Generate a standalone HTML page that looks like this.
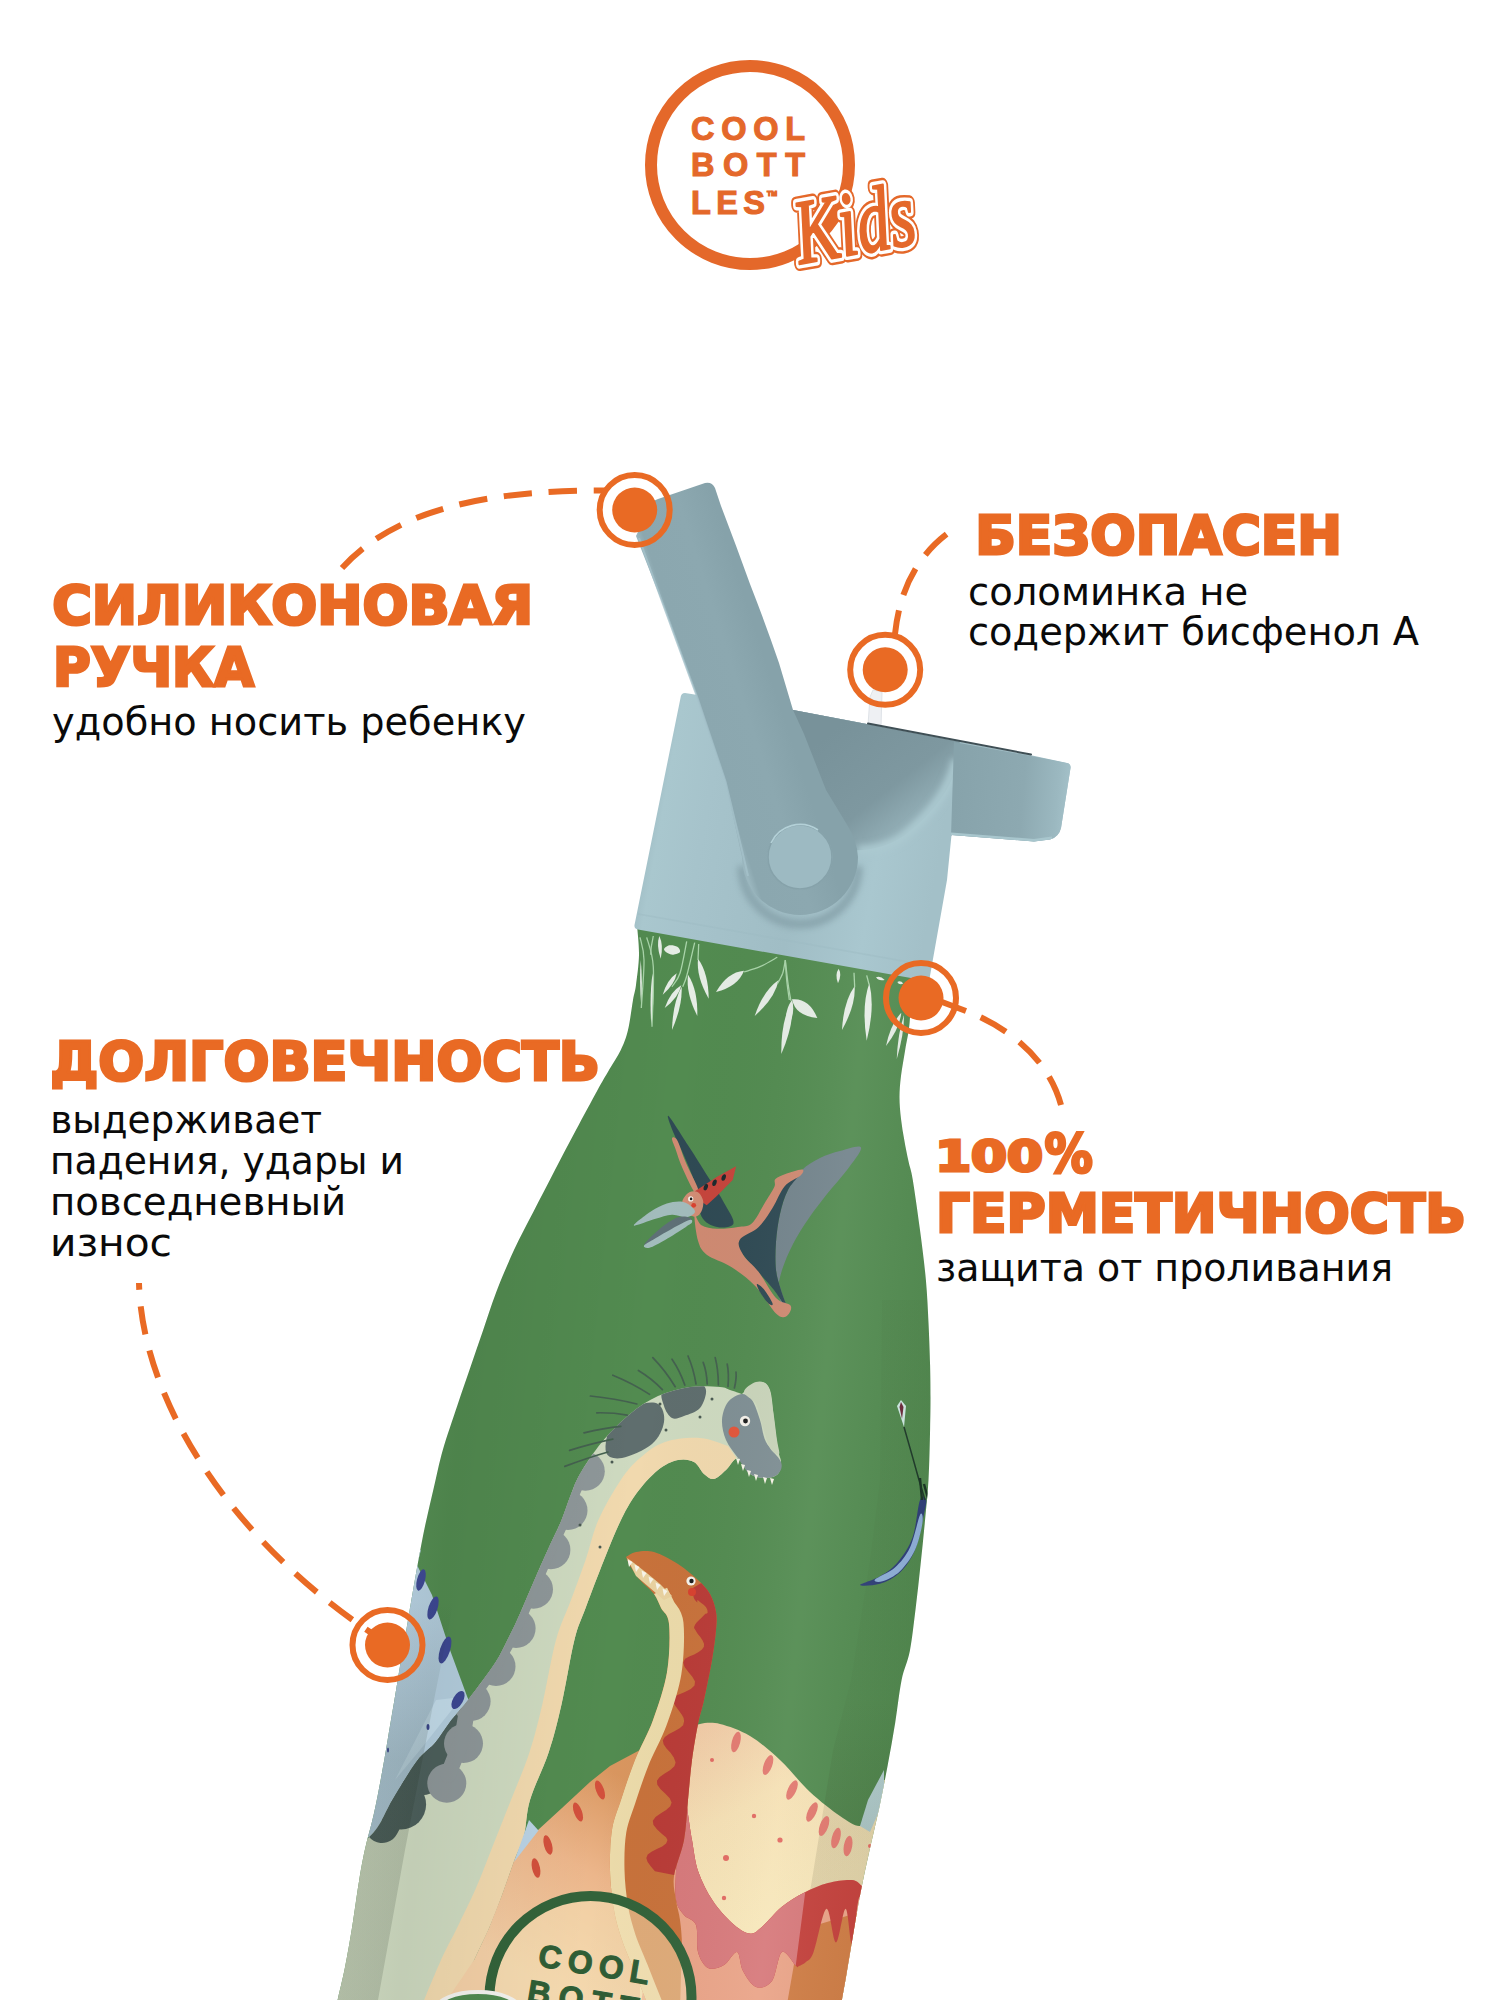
<!DOCTYPE html>
<html lang="ru"><head><meta charset="utf-8"><title>Cool Bottles Kids</title>
<style>
html,body{margin:0;padding:0;background:#fff;}
body{width:1500px;height:2000px;overflow:hidden;}
svg{display:block;}
.h{font-family:"DejaVu Sans","Liberation Sans",sans-serif;font-weight:bold;fill:#e96a24;stroke:#e96a24;stroke-width:3px;stroke-linejoin:miter;stroke-miterlimit:3;}
.b{font-family:"DejaVu Sans","Liberation Sans",sans-serif;fill:#0a0a0a;}
.lg{font-family:"Liberation Sans",sans-serif;font-weight:bold;fill:#e4682a;stroke:#e4682a;stroke-width:1.1px;}
</style></head><body>
<svg width="1500" height="2000" viewBox="0 0 1500 2000">
<defs>
<clipPath id="bc"><path d="M637.0,925.0 C637.3,930.0 639.2,945.0 639.0,955.0 C638.8,965.0 637.0,977.5 636.0,985.0 C635.0,992.5 634.3,992.5 633.0,1000.0 C631.7,1007.5 630.0,1021.7 628.0,1030.0 C626.0,1038.3 624.0,1043.3 620.8,1050.0 C617.6,1056.7 612.9,1063.2 609.0,1070.0 C605.1,1076.8 602.8,1080.5 597.3,1090.5 C591.8,1100.5 583.1,1116.7 576.0,1130.0 C568.9,1143.3 561.8,1156.8 554.7,1170.5 C547.6,1184.2 540.1,1198.8 533.3,1212.0 C526.5,1225.2 520.2,1236.5 514.0,1250.0 C507.8,1263.5 501.1,1279.4 496.0,1292.7 C490.9,1306.0 487.5,1317.6 483.2,1330.0 C478.9,1342.4 474.7,1354.8 470.4,1367.3 C466.1,1379.8 462.2,1390.9 457.6,1404.7 C453.0,1418.5 446.8,1436.2 442.8,1450.0 C438.9,1463.8 436.8,1474.8 433.9,1487.3 C431.0,1499.8 428.0,1512.1 425.3,1524.7 C422.6,1537.3 420.2,1550.6 417.9,1563.0 C415.6,1575.4 413.5,1587.9 411.5,1599.3 C409.5,1610.7 407.9,1620.7 406.1,1631.3 C404.3,1641.9 402.5,1651.0 400.5,1663.0 C398.5,1675.0 396.1,1690.0 393.9,1703.0 C391.7,1716.0 389.6,1728.2 387.5,1740.7 C385.4,1753.2 383.3,1765.6 381.0,1778.0 C378.7,1790.4 376.3,1803.0 373.6,1815.0 C370.9,1827.0 367.2,1838.8 364.8,1850.0 C362.4,1861.2 360.9,1869.5 358.9,1882.0 C356.8,1894.5 354.8,1910.5 352.5,1924.7 C350.2,1938.9 347.5,1954.8 345.0,1967.3 C342.5,1979.8 339.1,1992.9 337.6,2000.0 C336.1,2007.1 336.3,2008.3 336.0,2010.0 L840.0,2010.0 C840.3,2008.3 840.8,2006.2 841.9,2000.0 C843.0,1993.8 844.9,1983.5 846.7,1972.7 C848.6,1961.9 850.7,1948.6 853.0,1935.3 C855.3,1922.0 857.7,1906.9 860.5,1892.7 C863.3,1878.5 866.5,1864.1 869.6,1850.0 C872.7,1835.9 876.2,1822.1 879.2,1808.0 C882.2,1793.9 885.0,1779.5 887.7,1765.3 C890.4,1751.1 892.9,1736.9 895.2,1722.7 C897.5,1708.5 899.2,1692.0 901.6,1680.0 C904.0,1668.0 907.5,1662.7 909.9,1650.7 C912.2,1638.7 913.9,1622.2 915.7,1608.0 C917.5,1593.8 919.0,1579.5 920.5,1565.3 C922.0,1551.1 923.5,1536.9 924.8,1522.7 C926.1,1508.5 927.6,1495.6 928.5,1480.0 C929.4,1464.4 929.8,1442.8 930.1,1429.0 C930.4,1415.2 930.5,1407.9 930.5,1397.3 C930.5,1386.7 930.4,1377.7 930.1,1365.3 C929.8,1352.9 929.2,1336.9 928.5,1322.7 C927.8,1308.5 927.3,1295.5 925.9,1280.0 C924.5,1264.5 922.2,1246.7 920.0,1230.0 C917.8,1213.3 914.7,1191.5 912.8,1180.0 C910.9,1168.5 909.9,1168.0 908.5,1161.3 C907.1,1154.6 905.5,1147.1 904.3,1140.0 C903.0,1132.9 901.8,1125.8 901.0,1118.7 C900.2,1111.6 899.5,1104.4 899.5,1097.3 C899.5,1090.2 900.0,1084.0 901.0,1076.0 C902.0,1068.0 903.9,1058.2 905.3,1049.3 C906.7,1040.4 908.5,1035.1 909.6,1022.7 C910.7,1010.3 911.6,983.0 912.0,975.0Z"/></clipPath>
<linearGradient id="gshade" x1="0" y1="0" x2="1" y2="0.17" gradientUnits="objectBoundingBox">
<stop offset="0" stop-color="#000" stop-opacity="0.03"/>
<stop offset="0.10" stop-color="#fff" stop-opacity="0.03"/>
<stop offset="0.30" stop-color="#000" stop-opacity="0.06"/>
<stop offset="0.55" stop-color="#000" stop-opacity="0.0"/>
<stop offset="0.8" stop-color="#fff" stop-opacity="0.06"/>
<stop offset="1" stop-color="#000" stop-opacity="0.04"/>
</linearGradient>
</defs>
<g clip-path="url(#bc)">
<rect x="300" y="900" width="700" height="1110" fill="#528b50"/>
<path d="M421.0,1550.0 L417.0,1565.0 L432.0,1595.0 L450.0,1650.0 L467.5,1697.5 L480.0,1720.0 L440.0,1790.0 L390.0,1830.0 L330.0,1850.0 L330.0,1560.0Z" fill="#b4cede"/>
<path d="M436,1700 L462,1697 L420,1750 L395,1780 Z" fill="#c3dcea"/>
<ellipse cx="421" cy="1580" rx="4" ry="11" fill="#3d4893" transform="rotate(15 421 1580)"/>
<ellipse cx="433" cy="1608" rx="4.5" ry="12" fill="#3d4893" transform="rotate(18 433 1608)"/>
<ellipse cx="445" cy="1650" rx="5" ry="14" fill="#3d4893" transform="rotate(18 445 1650)"/>
<ellipse cx="458" cy="1700" rx="5" ry="10" fill="#3d4893" transform="rotate(30 458 1700)"/>
<ellipse cx="428" cy="1727" rx="1.5" ry="3" fill="#3d4893" transform="rotate(0 428 1727)"/>
<ellipse cx="388" cy="1750" rx="1" ry="2.5" fill="#3d4893" transform="rotate(0 388 1750)"/>
<defs><clipPath id="ldc"><path d="M742.0,1394.0 C740.0,1393.3 733.7,1391.2 730.0,1390.0 C726.3,1388.8 726.7,1387.5 720.0,1387.0 C713.3,1386.5 700.3,1385.5 690.0,1387.0 C679.7,1388.5 668.0,1391.5 658.0,1396.0 C648.0,1400.5 639.3,1406.3 630.0,1414.0 C620.7,1421.7 610.3,1432.0 602.0,1442.0 C593.7,1452.0 585.3,1464.8 580.0,1474.0 C574.7,1483.2 573.1,1489.3 570.0,1497.0 C566.9,1504.7 564.9,1512.0 561.6,1520.0 C558.3,1528.0 553.8,1536.7 550.0,1545.0 C546.2,1553.3 542.7,1561.3 539.0,1569.6 C535.3,1577.9 531.7,1586.5 528.0,1595.0 C524.3,1603.5 520.6,1612.5 516.8,1620.8 C513.0,1629.1 508.7,1637.8 505.0,1645.0 C501.3,1652.2 500.4,1655.0 494.4,1664.0 C488.4,1673.0 476.2,1689.3 468.8,1699.0 C461.4,1708.7 455.6,1714.7 450.0,1722.0 C444.4,1729.3 440.5,1736.5 435.0,1743.0 C429.5,1749.5 424.0,1751.7 417.0,1761.0 C410.0,1770.3 400.2,1787.2 393.0,1799.0 C385.8,1810.8 382.8,1821.5 374.0,1832.0 C365.2,1842.5 345.7,1857.0 340.0,1862.0 L300,1880 L300,2010 L452.0,2010.0 C455.7,2001.7 467.8,1973.7 474.0,1960.0 C480.2,1946.3 484.4,1938.7 489.0,1928.0 C493.6,1917.3 497.4,1907.2 501.6,1896.0 C505.8,1884.8 510.3,1871.2 514.0,1861.0 C517.7,1850.8 521.3,1845.2 524.0,1835.0 C526.7,1824.8 525.9,1813.8 530.0,1800.0 C534.1,1786.2 543.5,1768.0 548.8,1752.0 C554.1,1736.0 557.3,1722.7 561.6,1704.0 C565.9,1685.3 570.4,1656.0 574.4,1640.0 C578.4,1624.0 580.7,1621.3 585.6,1608.0 C590.5,1594.7 598.3,1574.3 604.0,1560.0 C609.7,1545.7 614.7,1533.0 620.0,1522.0 C625.3,1511.0 629.7,1502.7 636.0,1494.0 C642.3,1485.3 651.0,1475.7 658.0,1470.0 C665.0,1464.3 672.0,1461.3 678.0,1460.0 C684.0,1458.7 689.7,1459.7 694.0,1462.0 C698.3,1464.3 700.7,1471.2 704.0,1474.0 C707.3,1476.8 710.3,1479.7 714.0,1479.0 C717.7,1478.3 722.0,1473.5 726.0,1470.0 C730.0,1466.5 734.0,1457.3 738.0,1458.0 C742.0,1458.7 745.3,1470.7 750.0,1474.0 C754.7,1477.3 761.3,1478.0 766.0,1478.0 C770.7,1478.0 775.5,1476.7 778.0,1474.0 C780.5,1471.3 781.0,1466.0 781.0,1462.0 C781.0,1458.0 779.2,1457.0 778.0,1450.0 C776.8,1443.0 775.3,1430.0 774.0,1420.0 C772.7,1410.0 772.3,1396.3 770.0,1390.0 C767.7,1383.7 764.0,1382.0 760.0,1382.0 C756.0,1382.0 748.3,1388.7 746.0,1390.0Z"/></clipPath></defs>
<path d="M742.0,1394.0 C740.0,1393.3 733.7,1391.2 730.0,1390.0 C726.3,1388.8 726.7,1387.5 720.0,1387.0 C713.3,1386.5 700.3,1385.5 690.0,1387.0 C679.7,1388.5 668.0,1391.5 658.0,1396.0 C648.0,1400.5 639.3,1406.3 630.0,1414.0 C620.7,1421.7 610.3,1432.0 602.0,1442.0 C593.7,1452.0 585.3,1464.8 580.0,1474.0 C574.7,1483.2 573.1,1489.3 570.0,1497.0 C566.9,1504.7 564.9,1512.0 561.6,1520.0 C558.3,1528.0 553.8,1536.7 550.0,1545.0 C546.2,1553.3 542.7,1561.3 539.0,1569.6 C535.3,1577.9 531.7,1586.5 528.0,1595.0 C524.3,1603.5 520.6,1612.5 516.8,1620.8 C513.0,1629.1 508.7,1637.8 505.0,1645.0 C501.3,1652.2 500.4,1655.0 494.4,1664.0 C488.4,1673.0 476.2,1689.3 468.8,1699.0 C461.4,1708.7 455.6,1714.7 450.0,1722.0 C444.4,1729.3 440.5,1736.5 435.0,1743.0 C429.5,1749.5 424.0,1751.7 417.0,1761.0 C410.0,1770.3 400.2,1787.2 393.0,1799.0 C385.8,1810.8 382.8,1821.5 374.0,1832.0 C365.2,1842.5 345.7,1857.0 340.0,1862.0 L300,1880 L300,2010 L452.0,2010.0 C455.7,2001.7 467.8,1973.7 474.0,1960.0 C480.2,1946.3 484.4,1938.7 489.0,1928.0 C493.6,1917.3 497.4,1907.2 501.6,1896.0 C505.8,1884.8 510.3,1871.2 514.0,1861.0 C517.7,1850.8 521.3,1845.2 524.0,1835.0 C526.7,1824.8 525.9,1813.8 530.0,1800.0 C534.1,1786.2 543.5,1768.0 548.8,1752.0 C554.1,1736.0 557.3,1722.7 561.6,1704.0 C565.9,1685.3 570.4,1656.0 574.4,1640.0 C578.4,1624.0 580.7,1621.3 585.6,1608.0 C590.5,1594.7 598.3,1574.3 604.0,1560.0 C609.7,1545.7 614.7,1533.0 620.0,1522.0 C625.3,1511.0 629.7,1502.7 636.0,1494.0 C642.3,1485.3 651.0,1475.7 658.0,1470.0 C665.0,1464.3 672.0,1461.3 678.0,1460.0 C684.0,1458.7 689.7,1459.7 694.0,1462.0 C698.3,1464.3 700.7,1471.2 704.0,1474.0 C707.3,1476.8 710.3,1479.7 714.0,1479.0 C717.7,1478.3 722.0,1473.5 726.0,1470.0 C730.0,1466.5 734.0,1457.3 738.0,1458.0 C742.0,1458.7 745.3,1470.7 750.0,1474.0 C754.7,1477.3 761.3,1478.0 766.0,1478.0 C770.7,1478.0 775.5,1476.7 778.0,1474.0 C780.5,1471.3 781.0,1466.0 781.0,1462.0 C781.0,1458.0 779.2,1457.0 778.0,1450.0 C776.8,1443.0 775.3,1430.0 774.0,1420.0 C772.7,1410.0 772.3,1396.3 770.0,1390.0 C767.7,1383.7 764.0,1382.0 760.0,1382.0 C756.0,1382.0 748.3,1388.7 746.0,1390.0Z" fill="#cedac0"/>
<g clip-path="url(#ldc)">
<path d="M420.0,2010.0 C423.5,2001.7 434.8,1973.7 441.0,1960.0 C447.2,1946.3 451.2,1940.0 457.0,1928.0 C462.8,1916.0 470.2,1901.3 476.0,1888.0 C481.8,1874.7 486.2,1862.7 492.0,1848.0 C497.8,1833.3 504.7,1816.0 511.0,1800.0 C517.3,1784.0 524.4,1768.0 529.6,1752.0 C534.8,1736.0 538.0,1722.7 542.4,1704.0 C546.8,1685.3 551.2,1657.3 556.0,1640.0 C560.8,1622.7 566.1,1613.3 571.0,1600.0 C575.9,1586.7 581.0,1573.3 585.6,1560.0 C590.2,1546.7 592.5,1533.3 598.4,1520.0 C604.3,1506.7 613.9,1490.3 620.8,1480.0 C627.7,1469.7 632.6,1464.3 640.0,1458.0 C647.4,1451.7 655.0,1445.3 665.0,1442.0 C675.0,1438.7 689.5,1437.3 700.0,1438.0 C710.5,1438.7 723.3,1444.7 728.0,1446.0 L745.0,1470.0 C741.8,1472.5 732.8,1482.5 726.0,1485.0 C719.2,1487.5 710.0,1487.5 704.0,1485.0 C698.0,1482.5 696.5,1471.7 690.0,1470.0 C683.5,1468.3 672.5,1470.8 665.0,1475.0 C657.5,1479.2 651.2,1486.7 645.0,1495.0 C638.8,1503.3 633.5,1513.8 628.0,1525.0 C622.5,1536.2 617.2,1547.8 612.0,1562.0 C606.8,1576.2 601.8,1591.7 597.0,1610.0 C592.2,1628.3 587.5,1651.0 583.0,1672.0 C578.5,1693.0 575.5,1714.7 570.0,1736.0 C564.5,1757.3 555.0,1785.7 550.0,1800.0 C545.0,1814.3 543.7,1809.8 540.0,1822.0 C536.3,1834.2 532.3,1856.7 528.0,1873.0 C523.7,1889.3 519.5,1904.3 514.0,1920.0 C508.5,1935.7 500.5,1952.0 495.0,1967.0 C489.5,1982.0 483.3,2002.8 481.0,2010.0Z" fill="#f1d9ae"/>
<circle cx="446.7" cy="1739.0" r="25" fill="#4d605c"/>
<circle cx="421.7" cy="1770.2" r="25" fill="#4d605c"/>
<circle cx="401.1" cy="1804.5" r="25" fill="#4d605c"/>
<path d="M452.0,1722.0 L435.0,1743.0 L417.0,1765.0 L397.0,1798.0 L382.0,1826.0" stroke="#4d605c" stroke-width="34" fill="none" stroke-linecap="round"/>
<circle cx="585.3" cy="1471.2" r="19.5" fill="#8e9799"/>
<circle cx="568.0" cy="1510.4" r="19.5" fill="#8e9799"/>
<circle cx="550.9" cy="1549.8" r="19.5" fill="#8e9799"/>
<circle cx="533.5" cy="1589.2" r="19.5" fill="#8e9799"/>
<circle cx="516.1" cy="1628.5" r="19.5" fill="#8e9799"/>
<circle cx="496.0" cy="1666.5" r="19.5" fill="#8e9799"/>
<circle cx="471.1" cy="1701.4" r="19.5" fill="#8e9799"/>
<circle cx="463.5" cy="1743.6" r="19.5" fill="#8e9799"/>
<circle cx="446.8" cy="1783.2" r="19.5" fill="#8e9799"/>
<path d="M580.0,1474.0 L570.0,1497.0 L561.6,1520.0 L550.0,1545.0 L539.0,1569.6 L528.0,1595.0 L516.8,1620.8 L505.0,1645.0 L494.4,1664.0 L468.8,1699.0 L462.0,1740.0 L448.0,1775.0" stroke="#8e9799" stroke-width="16" fill="none" stroke-linecap="round"/>
<path d="M664.0,1390.0 C669.3,1386.3 689.0,1384.0 696.0,1384.0 C703.0,1384.0 705.3,1386.0 706.0,1390.0 C706.7,1394.0 703.7,1403.7 700.0,1408.0 C696.3,1412.3 688.7,1414.3 684.0,1416.0 C679.3,1417.7 675.3,1419.7 672.0,1418.0 C668.7,1416.3 665.3,1410.7 664.0,1406.0 C662.7,1401.3 658.7,1393.7 664.0,1390.0Z" fill="#5f6e6e"/>
<path d="M612.0,1424.0 C617.0,1416.3 628.3,1409.3 636.0,1406.0 C643.7,1402.7 653.3,1401.3 658.0,1404.0 C662.7,1406.7 665.0,1415.3 664.0,1422.0 C663.0,1428.7 659.0,1438.0 652.0,1444.0 C645.0,1450.0 629.7,1456.7 622.0,1458.0 C614.3,1459.3 607.7,1457.7 606.0,1452.0 C604.3,1446.3 607.0,1431.7 612.0,1424.0Z" fill="#5f6e6e"/>
<circle cx="712" cy="1399" r="1.5" fill="#4a5a52"/>
<circle cx="700" cy="1417" r="1.5" fill="#4a5a52"/>
<circle cx="666" cy="1430" r="1.5" fill="#4a5a52"/>
<circle cx="660" cy="1404" r="1.5" fill="#4a5a52"/>
<circle cx="612" cy="1462" r="1.5" fill="#4a5a52"/>
<circle cx="580" cy="1525" r="1.5" fill="#4a5a52"/>
<circle cx="600" cy="1547" r="1.5" fill="#4a5a52"/>
</g>
<path d="M742.0,1394.0 C746.0,1393.7 749.0,1395.7 752.0,1400.0 C755.0,1404.3 757.7,1413.0 760.0,1420.0 C762.3,1427.0 762.5,1435.0 766.0,1442.0 C769.5,1449.0 779.0,1456.7 781.0,1462.0 C783.0,1467.3 780.5,1471.3 778.0,1474.0 C775.5,1476.7 770.7,1478.0 766.0,1478.0 C761.3,1478.0 754.7,1477.3 750.0,1474.0 C745.3,1470.7 742.0,1463.7 738.0,1458.0 C734.0,1452.3 728.7,1446.3 726.0,1440.0 C723.3,1433.7 721.7,1426.3 722.0,1420.0 C722.3,1413.7 724.7,1406.3 728.0,1402.0 C731.3,1397.7 738.0,1394.3 742.0,1394.0Z" fill="#7f8f94"/>
<path d="M744.0,1392.0 C744.0,1388.3 752.0,1383.0 756.0,1382.0 C760.0,1381.0 765.2,1381.3 768.0,1386.0 C770.8,1390.7 771.5,1401.0 773.0,1410.0 C774.5,1419.0 776.0,1432.7 777.0,1440.0 C778.0,1447.3 780.2,1452.7 779.0,1454.0 C777.8,1455.3 772.8,1453.0 770.0,1448.0 C767.2,1443.0 764.3,1431.3 762.0,1424.0 C759.7,1416.7 759.0,1409.3 756.0,1404.0 C753.0,1398.7 744.0,1395.7 744.0,1392.0Z" fill="#c9d4ba"/>
<circle cx="745" cy="1421" r="5.2" fill="#f4f1ea"/><circle cx="745.5" cy="1421" r="2.4" fill="#1c1c1c"/>
<circle cx="734" cy="1432" r="5.5" fill="#e2553a"/>
<path d="M736,1458 L740,1459 L738,1465 Z" fill="#f6f3e6"/>
<path d="M741,1464 L745,1465 L743,1471 Z" fill="#f6f3e6"/>
<path d="M747,1470 L751,1471 L749,1477 Z" fill="#f6f3e6"/>
<path d="M754,1474 L758,1475 L756,1481 Z" fill="#f6f3e6"/>
<path d="M763,1477 L767,1478 L765,1484 Z" fill="#f6f3e6"/>
<path d="M770,1478 L774,1479 L772,1485 Z" fill="#f6f3e6"/>
<path d="M734.4,1388.0 Q736.7,1378.5 736.0,1372.0" stroke="#44614f" stroke-width="1.7" fill="none" stroke-linecap="round"/>
<path d="M728.0,1386.4 Q729.1,1373.7 727.2,1364.0" stroke="#44614f" stroke-width="1.7" fill="none" stroke-linecap="round"/>
<path d="M718.4,1384.8 Q718.3,1369.7 715.2,1357.6" stroke="#44614f" stroke-width="1.7" fill="none" stroke-linecap="round"/>
<path d="M707.2,1384.0 Q706.7,1371.7 703.2,1362.4" stroke="#44614f" stroke-width="1.7" fill="none" stroke-linecap="round"/>
<path d="M696.0,1384.0 Q693.5,1368.5 688.0,1356.0" stroke="#44614f" stroke-width="1.7" fill="none" stroke-linecap="round"/>
<path d="M684.8,1385.1 Q679.9,1370.7 672.0,1359.2" stroke="#44614f" stroke-width="1.7" fill="none" stroke-linecap="round"/>
<path d="M675.2,1386.7 Q665.5,1370.7 652.8,1357.6" stroke="#44614f" stroke-width="1.7" fill="none" stroke-linecap="round"/>
<path d="M662.4,1389.6 Q651.9,1378.5 638.4,1370.4" stroke="#44614f" stroke-width="1.7" fill="none" stroke-linecap="round"/>
<path d="M649.6,1394.4 Q632.7,1383.3 612.8,1375.2" stroke="#44614f" stroke-width="1.7" fill="none" stroke-linecap="round"/>
<path d="M636.8,1404.0 Q615.1,1398.5 590.4,1396.0" stroke="#44614f" stroke-width="1.7" fill="none" stroke-linecap="round"/>
<path d="M627.2,1415.2 Q613.5,1412.5 596.8,1412.8" stroke="#44614f" stroke-width="1.7" fill="none" stroke-linecap="round"/>
<path d="M620.8,1426.4 Q603.9,1428.1 584.0,1432.8" stroke="#44614f" stroke-width="1.7" fill="none" stroke-linecap="round"/>
<path d="M612.8,1439.2 Q592.7,1443.3 569.6,1450.4" stroke="#44614f" stroke-width="1.7" fill="none" stroke-linecap="round"/>
<path d="M608.0,1452.0 Q587.9,1457.7 564.8,1466.4" stroke="#44614f" stroke-width="1.7" fill="none" stroke-linecap="round"/>
<defs><linearGradient id="peachg" gradientUnits="userSpaceOnUse" x1="610" y1="1770" x2="500" y2="1960"><stop offset="0" stop-color="#d9965f"/><stop offset="0.45" stop-color="#ecb68b"/><stop offset="1" stop-color="#f3cfa6"/></linearGradient></defs>
<path d="M538.0,1830.0 L562.0,1808.0 L590.0,1782.0 L610.0,1766.0 L640.0,1750.0 L660.0,2010.0 L440.0,2010.0 L474.0,1960.0 L489.0,1928.0 L501.6,1896.0 L514.0,1861.0 L524.0,1838.0Z" fill="url(#peachg)"/>
<path d="M529,1820 L538.5,1830.5 L514,1862 Z" fill="#b9d2e4"/>
<ellipse cx="600" cy="1790" rx="4" ry="10" fill="#d2503c" transform="rotate(-20 600 1790)"/>
<ellipse cx="578" cy="1812" rx="4" ry="10" fill="#d2503c" transform="rotate(-20 578 1812)"/>
<ellipse cx="548" cy="1845" rx="4" ry="10" fill="#d2503c" transform="rotate(-15 548 1845)"/>
<ellipse cx="536" cy="1868" rx="4" ry="10" fill="#d2503c" transform="rotate(-12 536 1868)"/>
<defs><linearGradient id="creamg" gradientUnits="userSpaceOnUse" x1="700" y1="1730" x2="800" y2="1900"><stop offset="0" stop-color="#f1cba6"/><stop offset="0.45" stop-color="#f5e0b4"/><stop offset="1" stop-color="#f7e7ba"/></linearGradient></defs>
<path d="M690.0,1730.0 C691.7,1729.0 695.0,1725.0 700.0,1724.0 C705.0,1723.0 711.7,1722.0 720.0,1724.0 C728.3,1726.0 740.0,1730.0 750.0,1736.0 C760.0,1742.0 770.0,1750.7 780.0,1760.0 C790.0,1769.3 800.0,1782.7 810.0,1792.0 C820.0,1801.3 831.7,1810.3 840.0,1816.0 C848.3,1821.7 855.3,1826.7 860.0,1826.0 C864.7,1825.3 865.5,1817.2 868.0,1812.0 C870.5,1806.8 872.7,1800.3 875.0,1795.0 C877.3,1789.7 880.8,1782.5 882.0,1780.0 L900,1780 L900,2010 L640,2010 L640,1750 Z" fill="url(#creamg)"/>
<path d="M860,1826 L868,1800 L884,1770 L884,1800 L870,1832 Z" fill="#b9d6d8"/>
<defs><linearGradient id="fadeR" gradientUnits="userSpaceOnUse" x1="0" y1="1700" x2="0" y2="1830"><stop offset="0" stop-color="#2a2a10" stop-opacity="0.03"/><stop offset="1" stop-color="#2a2a10" stop-opacity="0.11"/></linearGradient></defs>
<path d="M1000,1300 L882,1300 L880,1480 L870,1560 L851,1680 L833,1750 L816.8,1850 L792.3,2000 L790,2012 L1000,2012 Z" fill="url(#fadeR)"/>
<path d="M686.0,1800.0 C687.0,1806.7 689.9,1828.0 692.0,1840.0 C694.1,1852.0 694.9,1861.9 698.4,1872.0 C701.9,1882.1 707.2,1892.3 712.8,1900.8 C718.4,1909.3 725.9,1917.5 732.0,1923.0 C738.1,1928.5 744.5,1933.0 749.6,1933.6 C754.7,1934.2 757.1,1930.8 762.4,1926.4 C767.7,1922.0 774.7,1912.6 781.6,1907.0 C788.5,1901.4 796.3,1896.8 804.0,1892.8 C811.7,1888.8 820.0,1885.1 828.0,1883.0 C836.0,1880.9 846.3,1879.5 852.0,1880.0 C857.7,1880.5 860.3,1885.0 862.0,1886.0 L900,1890 L900,2010 L640,2010 L660,1880 Z" fill="#eaa488"/>
<path d="M800,1930 L900,1900 L900,2010 L786,2010 Z" fill="#cf7d45"/>
<path d="M686.0,1800.0 C687.0,1806.7 689.9,1828.0 692.0,1840.0 C694.1,1852.0 694.9,1861.9 698.4,1872.0 C701.9,1882.1 707.2,1892.3 712.8,1900.8 C718.4,1909.3 725.9,1917.5 732.0,1923.0 C738.1,1928.5 744.5,1933.0 749.6,1933.6 C754.7,1934.2 757.1,1930.8 762.4,1926.4 C767.7,1922.0 774.7,1912.6 781.6,1907.0 C788.5,1901.4 796.3,1896.8 804.0,1892.8 C811.7,1888.8 820.0,1885.1 828.0,1883.0 C836.0,1880.9 846.3,1879.5 852.0,1880.0 C857.7,1880.5 860.3,1885.0 862.0,1886.0 L862.0,1900.0 C861.4,1900.0 860.1,1892.7 858.4,1900.0 C856.7,1907.3 854.1,1942.5 852.0,1944.0 C849.9,1945.5 848.3,1909.1 845.6,1908.8 C842.9,1908.5 839.2,1942.4 836.0,1942.4 C832.8,1942.4 830.1,1907.2 826.4,1908.8 C822.7,1910.4 817.0,1943.1 813.6,1952.0 C810.2,1960.9 808.4,1959.7 806.0,1962.0 C803.6,1964.3 800.7,1965.3 799.0,1966.0 C797.3,1966.7 798.8,1968.3 796.0,1966.0 C793.2,1963.7 786.0,1949.5 782.0,1952.0 C778.0,1954.5 776.3,1975.2 772.0,1981.0 C767.7,1986.8 760.8,1988.7 756.0,1987.0 C751.2,1985.3 746.2,1976.8 743.0,1971.0 C739.8,1965.2 740.2,1953.0 737.0,1952.0 C733.8,1951.0 728.8,1962.3 724.0,1965.0 C719.2,1967.7 712.3,1970.2 708.0,1968.0 C703.7,1965.8 700.0,1959.2 698.0,1952.0 C696.0,1944.8 698.3,1931.2 696.0,1925.0 C693.7,1918.8 687.3,1919.2 684.0,1915.0 C680.7,1910.8 677.3,1907.5 676.0,1900.0 C674.7,1892.5 676.0,1875.0 676.0,1870.0 Z" fill="#c4413c"/>
<defs><clipPath id="glossc"><path d="M681,1700 L834,1700 L812,1840 L790,2010 L664,2010 Z"/></clipPath></defs>
<g clip-path="url(#glossc)"><path d="M686.0,1800.0 C687.0,1806.7 689.9,1828.0 692.0,1840.0 C694.1,1852.0 694.9,1861.9 698.4,1872.0 C701.9,1882.1 707.2,1892.3 712.8,1900.8 C718.4,1909.3 725.9,1917.5 732.0,1923.0 C738.1,1928.5 744.5,1933.0 749.6,1933.6 C754.7,1934.2 757.1,1930.8 762.4,1926.4 C767.7,1922.0 774.7,1912.6 781.6,1907.0 C788.5,1901.4 796.3,1896.8 804.0,1892.8 C811.7,1888.8 820.0,1885.1 828.0,1883.0 C836.0,1880.9 846.3,1879.5 852.0,1880.0 C857.7,1880.5 860.3,1885.0 862.0,1886.0 L862.0,1900.0 C861.4,1900.0 860.1,1892.7 858.4,1900.0 C856.7,1907.3 854.1,1942.5 852.0,1944.0 C849.9,1945.5 848.3,1909.1 845.6,1908.8 C842.9,1908.5 839.2,1942.4 836.0,1942.4 C832.8,1942.4 830.1,1907.2 826.4,1908.8 C822.7,1910.4 817.0,1943.1 813.6,1952.0 C810.2,1960.9 808.4,1959.7 806.0,1962.0 C803.6,1964.3 800.7,1965.3 799.0,1966.0 C797.3,1966.7 798.8,1968.3 796.0,1966.0 C793.2,1963.7 786.0,1949.5 782.0,1952.0 C778.0,1954.5 776.3,1975.2 772.0,1981.0 C767.7,1986.8 760.8,1988.7 756.0,1987.0 C751.2,1985.3 746.2,1976.8 743.0,1971.0 C739.8,1965.2 740.2,1953.0 737.0,1952.0 C733.8,1951.0 728.8,1962.3 724.0,1965.0 C719.2,1967.7 712.3,1970.2 708.0,1968.0 C703.7,1965.8 700.0,1959.2 698.0,1952.0 C696.0,1944.8 698.3,1931.2 696.0,1925.0 C693.7,1918.8 687.3,1919.2 684.0,1915.0 C680.7,1910.8 677.3,1907.5 676.0,1900.0 C674.7,1892.5 676.0,1875.0 676.0,1870.0 Z" fill="#d7797b"/></g>
<ellipse cx="736" cy="1742" rx="4.2" ry="10.5" fill="#e2796f" transform="rotate(15 736 1742)"/>
<ellipse cx="768" cy="1765" rx="4.2" ry="10.5" fill="#e2796f" transform="rotate(20 768 1765)"/>
<ellipse cx="792" cy="1790" rx="4.2" ry="10.5" fill="#e2796f" transform="rotate(25 792 1790)"/>
<ellipse cx="812" cy="1812" rx="4.2" ry="10.5" fill="#e2796f" transform="rotate(25 812 1812)"/>
<ellipse cx="824" cy="1826" rx="4.2" ry="10.5" fill="#e2796f" transform="rotate(20 824 1826)"/>
<ellipse cx="836" cy="1838" rx="4.2" ry="10.5" fill="#e2796f" transform="rotate(15 836 1838)"/>
<ellipse cx="848" cy="1846" rx="4.2" ry="10.5" fill="#e2796f" transform="rotate(10 848 1846)"/>
<circle cx="712" cy="1760" r="2" fill="#e26a62"/>
<circle cx="754" cy="1816" r="2.2" fill="#e26a62"/>
<circle cx="780" cy="1840" r="2.6" fill="#e26a62"/>
<circle cx="726" cy="1858" r="3" fill="#e26a62"/>
<circle cx="724" cy="1898" r="2.2" fill="#e26a62"/>
<circle cx="870" cy="1846" r="2" fill="#e26a62"/>
<defs><clipPath id="odc"><path d="M626.0,1557.0 C627.7,1556.2 631.3,1552.8 636.0,1552.0 C640.7,1551.2 647.0,1550.0 654.0,1552.0 C661.0,1554.0 670.7,1559.3 678.0,1564.0 C685.3,1568.7 692.7,1575.0 698.0,1580.0 C703.3,1585.0 707.0,1588.7 710.0,1594.0 C713.0,1599.3 715.0,1606.0 716.0,1612.0 C717.0,1618.0 716.7,1622.0 716.0,1630.0 C715.3,1638.0 714.0,1648.3 712.0,1660.0 C710.0,1671.7 706.3,1689.3 704.0,1700.0 C701.7,1710.7 700.0,1714.0 698.0,1724.0 C696.0,1734.0 693.7,1747.3 692.0,1760.0 C690.3,1772.7 689.3,1786.7 688.0,1800.0 C686.7,1813.3 686.3,1827.3 684.0,1840.0 C681.7,1852.7 675.3,1866.0 674.0,1876.0 C672.7,1886.0 675.0,1892.7 676.0,1900.0 C677.0,1907.3 679.0,1912.5 680.0,1920.0 C681.0,1927.5 681.8,1935.8 682.0,1945.0 C682.2,1954.2 681.3,1964.2 681.0,1975.0 C680.7,1985.8 680.2,2004.2 680.0,2010.0 L650.0,2010.0 C647.3,2003.3 638.7,1981.7 634.0,1970.0 C629.3,1958.3 625.3,1950.0 622.0,1940.0 C618.7,1930.0 616.0,1921.7 614.0,1910.0 C612.0,1898.3 610.3,1883.3 610.0,1870.0 C609.7,1856.7 610.2,1841.7 612.0,1830.0 C613.8,1818.3 617.2,1811.7 621.0,1800.0 C624.8,1788.3 629.7,1773.3 635.0,1760.0 C640.3,1746.7 647.7,1734.7 653.0,1720.0 C658.3,1705.3 664.3,1688.0 667.0,1672.0 C669.7,1656.0 670.0,1634.7 669.0,1624.0 C668.0,1613.3 663.5,1613.0 661.0,1608.0 C658.5,1603.0 657.5,1598.7 654.0,1594.0 C650.5,1589.3 644.0,1584.7 640.0,1580.0 C636.0,1575.3 631.7,1568.3 630.0,1566.0Z"/></clipPath></defs>
<path d="M626.0,1557.0 C627.7,1556.2 631.3,1552.8 636.0,1552.0 C640.7,1551.2 647.0,1550.0 654.0,1552.0 C661.0,1554.0 670.7,1559.3 678.0,1564.0 C685.3,1568.7 692.7,1575.0 698.0,1580.0 C703.3,1585.0 707.0,1588.7 710.0,1594.0 C713.0,1599.3 715.0,1606.0 716.0,1612.0 C717.0,1618.0 716.7,1622.0 716.0,1630.0 C715.3,1638.0 714.0,1648.3 712.0,1660.0 C710.0,1671.7 706.3,1689.3 704.0,1700.0 C701.7,1710.7 700.0,1714.0 698.0,1724.0 C696.0,1734.0 693.7,1747.3 692.0,1760.0 C690.3,1772.7 689.3,1786.7 688.0,1800.0 C686.7,1813.3 686.3,1827.3 684.0,1840.0 C681.7,1852.7 675.3,1866.0 674.0,1876.0 C672.7,1886.0 675.0,1892.7 676.0,1900.0 C677.0,1907.3 679.0,1912.5 680.0,1920.0 C681.0,1927.5 681.8,1935.8 682.0,1945.0 C682.2,1954.2 681.3,1964.2 681.0,1975.0 C680.7,1985.8 680.2,2004.2 680.0,2010.0 L650.0,2010.0 C647.3,2003.3 638.7,1981.7 634.0,1970.0 C629.3,1958.3 625.3,1950.0 622.0,1940.0 C618.7,1930.0 616.0,1921.7 614.0,1910.0 C612.0,1898.3 610.3,1883.3 610.0,1870.0 C609.7,1856.7 610.2,1841.7 612.0,1830.0 C613.8,1818.3 617.2,1811.7 621.0,1800.0 C624.8,1788.3 629.7,1773.3 635.0,1760.0 C640.3,1746.7 647.7,1734.7 653.0,1720.0 C658.3,1705.3 664.3,1688.0 667.0,1672.0 C669.7,1656.0 670.0,1634.7 669.0,1624.0 C668.0,1613.3 663.5,1613.0 661.0,1608.0 C658.5,1603.0 657.5,1598.7 654.0,1594.0 C650.5,1589.3 644.0,1584.7 640.0,1580.0 C636.0,1575.3 631.7,1568.3 630.0,1566.0Z" fill="#c8723b"/>
<g clip-path="url(#odc)">
<path d="M703.0,1582.0 L704.0,1583.2 L705.0,1584.4 L706.0,1585.6 L707.0,1586.8 L708.0,1588.0 L709.0,1589.2 L710.0,1590.4 L711.0,1591.6 L712.0,1592.8 L713.0,1594.0 L713.6,1595.8 L714.2,1597.6 L714.8,1599.4 L715.4,1601.2 L716.0,1603.0 L716.6,1604.8 L717.2,1606.6 L717.8,1608.4 L718.4,1610.2 L719.0,1612.0 L719.0,1613.8 L719.0,1615.6 L719.0,1617.4 L719.0,1619.2 L719.0,1621.0 L719.0,1622.8 L719.0,1624.6 L719.0,1626.4 L719.0,1628.2 L719.0,1630.0 L718.6,1633.0 L718.2,1636.0 L717.8,1639.0 L717.4,1642.0 L717.0,1645.0 L716.6,1648.0 L716.2,1651.0 L715.8,1654.0 L715.4,1657.0 L715.0,1660.0 L714.2,1664.0 L713.4,1668.0 L712.6,1672.0 L711.8,1676.0 L711.0,1680.0 L710.2,1684.0 L709.4,1688.0 L708.6,1692.0 L707.8,1696.0 L707.0,1700.0 L706.4,1702.4 L705.8,1704.8 L705.2,1707.2 L704.6,1709.6 L704.0,1712.0 L703.4,1714.4 L702.8,1716.8 L702.2,1719.2 L701.6,1721.6 L701.0,1724.0 L700.4,1727.6 L699.8,1731.2 L699.2,1734.8 L698.6,1738.4 L698.0,1742.0 L697.4,1745.6 L696.8,1749.2 L696.2,1752.8 L695.6,1756.4 L695.0,1760.0 L694.6,1764.0 L694.2,1768.0 L693.8,1772.0 L693.4,1776.0 L693.0,1780.0 L692.6,1784.0 L692.2,1788.0 L691.8,1792.0 L691.4,1796.0 L691.0,1800.0 L690.6,1804.0 L690.2,1808.0 L689.8,1812.0 L689.4,1816.0 L689.0,1820.0 L688.6,1824.0 L688.2,1828.0 L687.8,1832.0 L687.4,1836.0 L687.0,1840.0 L686.2,1843.6 L685.4,1847.2 L684.6,1850.8 L683.8,1854.4 L683.0,1858.0 L682.2,1861.6 L681.4,1865.2 L680.6,1868.8 L679.8,1872.4 L679.0,1876.0 L654.9,1871.3 L650.9,1866.6 L647.6,1862.1 L646.3,1858.1 L647.7,1854.6 L651.5,1851.7 L656.8,1849.1 L662.2,1846.5 L666.1,1843.6 L667.5,1840.1 L666.0,1837.2 L661.7,1833.7 L656.9,1829.2 L653.4,1824.8 L652.8,1820.7 L655.5,1816.9 L660.5,1813.4 L666.1,1809.9 L670.3,1806.3 L671.6,1802.4 L669.7,1798.2 L665.4,1793.7 L660.6,1789.2 L657.3,1784.8 L656.9,1780.7 L659.7,1777.0 L664.7,1773.4 L670.3,1770.0 L674.4,1766.3 L675.6,1762.4 L673.8,1757.6 L670.5,1752.7 L666.5,1748.4 L663.6,1744.2 L662.8,1740.3 L664.8,1737.0 L669.0,1734.0 L674.4,1731.2 L679.6,1728.3 L683.1,1725.2 L684.1,1721.2 L683.6,1717.9 L682.0,1714.9 L679.7,1711.8 L677.3,1708.6 L675.1,1705.5 L673.7,1702.6 L673.3,1700.0 L674.1,1697.6 L676.1,1695.6 L678.9,1694.5 L684.9,1692.0 L690.8,1689.0 L694.5,1685.6 L695.0,1681.6 L692.5,1676.9 L688.4,1671.9 L684.6,1667.0 L683.2,1662.6 L685.1,1658.8 L689.8,1656.2 L694.2,1654.6 L698.6,1652.1 L702.0,1649.5 L703.9,1646.7 L704.0,1643.7 L702.6,1640.4 L700.3,1637.1 L697.6,1633.7 L695.5,1630.3 L694.3,1628.2 L694.0,1628.2 L694.3,1626.4 L695.2,1624.6 L696.4,1622.8 L698.1,1621.0 L699.9,1619.2 L701.8,1617.4 L703.7,1615.6 L705.4,1613.8 L706.9,1613.5 L707.6,1612.8 L707.5,1610.8 L707.0,1609.0 L706.0,1607.3 L704.7,1605.8 L703.0,1604.3 L701.2,1602.9 L699.4,1601.5 L697.7,1600.1 L697.2,1600.8 L697.4,1602.4 L696.2,1601.4 L695.2,1600.3 L694.3,1598.9 L693.7,1597.4 L693.3,1595.7 L693.0,1594.0 L692.7,1592.1 L692.6,1590.2 L692.5,1588.3Z" fill="#b93b37"/>
<path d="M656.5,2007.4 C653.8,2000.7 645.1,1979.0 640.5,1967.4 C635.9,1955.8 631.9,1947.6 628.6,1937.8 C625.4,1928.0 622.8,1920.1 620.9,1908.8 C619.0,1897.5 617.3,1882.8 617.0,1869.8 C616.7,1856.9 617.1,1842.4 618.9,1831.1 C620.7,1819.8 623.9,1813.6 627.7,1802.2 C631.4,1790.8 636.2,1775.9 641.5,1762.6 C646.8,1749.3 654.2,1737.3 659.6,1722.4 C665.0,1707.5 671.2,1689.7 673.9,1673.2 C676.6,1656.6 677.1,1634.7 676.0,1623.3 C674.9,1612.0 669.9,1610.3 667.3,1604.9 C664.6,1599.5 661.4,1593.2 660.3,1590.9" fill="none" stroke="#ecdbaa" stroke-width="15"/>
</g>
<path d="M627,1558 L634,1563 L648,1574 L660,1584 L672,1596 L664,1600 L650,1588 L636,1576 Z" fill="#e9d2a0"/>
<path d="M627.5,1559.5 L632.5,1562 L629,1567 Z" fill="#f8f5ea"/>
<path d="M634.5,1564.5 L639.5,1567 L636,1572 Z" fill="#f8f5ea"/>
<path d="M641.5,1570.5 L646.5,1573 L643,1578 Z" fill="#f8f5ea"/>
<path d="M648.5,1576.5 L653.5,1579 L650,1584 Z" fill="#f8f5ea"/>
<path d="M655.5,1582.5 L660.5,1585 L657,1590 Z" fill="#f8f5ea"/>
<path d="M662.5,1588.5 L667.5,1591 L664,1596 Z" fill="#f8f5ea"/>
<circle cx="691" cy="1581" r="4.6" fill="#f6f3ec"/><circle cx="691.5" cy="1581" r="2.2" fill="#1c1c1c"/>
<circle cx="692" cy="1592" r="4" fill="#d8412f"/>
<circle cx="590.5" cy="1997" r="101" fill="#f6e4b8" fill-opacity="0.5" stroke="#33633a" stroke-width="10"/>
<g transform="rotate(9.5 537 1966)"><text x="537" y="1966" font-family="Liberation Sans,sans-serif" font-weight="bold" font-size="32" fill="#2f5d35" stroke="#2f5d35" stroke-width="1" textLength="112" lengthAdjust="spacing">COOL</text><text x="532" y="2003" font-family="Liberation Sans,sans-serif" font-weight="bold" font-size="32" fill="#2f5d35" stroke="#2f5d35" stroke-width="1" textLength="112" lengthAdjust="spacing">BOTT</text></g>
<ellipse cx="478" cy="2010" rx="42" ry="18" fill="#4f8a50" stroke="#f2f2ee" stroke-width="4"/>
<path d="M668.5,1116.0 C671.1,1118.3 682.4,1136.5 689.3,1147.2 C696.3,1157.9 704.4,1170.9 710.1,1180.1 C715.9,1189.4 720.1,1195.4 724.0,1202.7 C727.9,1209.9 734.7,1219.4 733.5,1223.5 C732.4,1227.5 722.4,1228.1 717.1,1226.9 C711.7,1225.8 704.9,1223.2 701.5,1216.5 C698.0,1209.9 699.2,1197.2 696.3,1187.1 C693.4,1177.0 687.9,1164.8 684.1,1155.9 C680.4,1146.9 676.3,1140.0 673.7,1133.3 C671.1,1126.7 665.9,1113.7 668.5,1116.0Z" fill="#2f4a54"/>
<path d="M672.0,1138.5 C672.3,1137.1 674.9,1136.2 677.2,1140.3 C679.5,1144.3 682.4,1154.7 685.9,1162.8 C689.3,1170.9 696.6,1183.9 698.0,1188.8 C699.4,1193.7 697.1,1195.7 694.5,1192.3 C691.9,1188.8 685.6,1175.2 682.4,1168.0 C679.2,1160.8 677.2,1153.8 675.5,1148.9 C673.7,1144.0 671.7,1140.0 672.0,1138.5Z" fill="#cf8a72"/>
<path d="M802.0,1170.0 C807.3,1164.7 813.7,1161.2 820.0,1158.0 C826.3,1154.8 833.2,1152.7 840.0,1151.0 C846.8,1149.3 859.8,1144.4 861.0,1147.6 C862.2,1150.8 852.7,1162.3 847.0,1170.0 C841.3,1177.7 833.3,1186.0 827.0,1194.0 C820.7,1202.0 814.7,1209.7 809.0,1218.0 C803.3,1226.3 797.5,1235.3 793.0,1244.0 C788.5,1252.7 784.5,1262.3 782.0,1270.0 C779.5,1277.7 778.2,1284.7 778.0,1290.0 C777.8,1295.3 779.5,1298.9 781.0,1302.0 C782.5,1305.1 787.0,1310.4 787.0,1308.4 C787.0,1306.4 782.8,1296.4 781.0,1290.0 C779.2,1283.6 776.8,1278.0 776.0,1270.0 C775.2,1262.0 775.3,1251.3 776.0,1242.0 C776.7,1232.7 778.0,1222.7 780.0,1214.0 C782.0,1205.3 784.3,1197.3 788.0,1190.0 C791.7,1182.7 796.7,1175.3 802.0,1170.0Z" fill="#73848c"/>
<path d="M802.0,1172.0 C802.3,1173.0 791.7,1183.0 788.0,1190.0 C784.3,1197.0 782.0,1205.3 780.0,1214.0 C778.0,1222.7 776.7,1232.7 776.0,1242.0 C775.3,1251.3 775.2,1262.0 776.0,1270.0 C776.8,1278.0 779.2,1283.6 781.0,1290.0 C782.8,1296.4 788.2,1308.4 787.0,1308.4 C785.8,1308.4 778.5,1295.7 774.0,1290.0 C769.5,1284.3 765.0,1279.7 760.0,1274.0 C755.0,1268.3 748.2,1261.7 744.0,1256.0 C739.8,1250.3 733.7,1245.3 735.0,1240.0 C736.3,1234.7 745.8,1230.3 752.0,1224.0 C758.2,1217.7 766.3,1208.7 772.0,1202.0 C777.7,1195.3 781.0,1189.0 786.0,1184.0 C791.0,1179.0 801.7,1171.0 802.0,1172.0Z" fill="#2f4a54"/>
<path d="M694.5,1214.8 C695.1,1212.2 697.7,1222.9 701.5,1225.2 C705.2,1227.5 711.0,1228.4 717.1,1228.7 C723.1,1229.0 732.1,1227.8 737.9,1226.9 C743.6,1226.1 747.4,1227.2 751.7,1223.5 C756.1,1219.7 760.1,1210.5 763.9,1204.4 C767.6,1198.3 772.2,1191.4 774.3,1187.1 C776.3,1182.7 772.8,1181.0 776.0,1178.4 C779.2,1175.8 788.9,1172.9 793.3,1171.5 C797.8,1170.0 801.7,1169.0 802.9,1169.7 C804.0,1170.5 803.3,1173.1 800.3,1175.8 C797.2,1178.5 789.3,1180.9 784.7,1186.2 C780.0,1191.5 776.9,1201.1 772.5,1207.9 C768.2,1214.7 764.2,1221.6 758.7,1226.9 C753.2,1232.3 742.2,1235.3 739.6,1239.9 C737.0,1244.6 739.9,1249.3 743.1,1254.7 C746.2,1260.0 753.2,1264.8 758.7,1272.0 C764.2,1279.2 770.7,1292.4 776.0,1298.0 C781.3,1303.6 789.0,1302.8 790.7,1305.8 C792.5,1308.8 788.9,1314.9 786.4,1316.2 C783.9,1317.5 781.2,1318.7 776.0,1313.6 C770.8,1308.5 762.7,1293.7 755.2,1285.9 C747.7,1278.1 739.0,1272.0 730.9,1266.8 C722.8,1261.6 712.2,1259.0 706.7,1254.7 C701.2,1250.3 700.0,1247.4 698.0,1240.8 C696.0,1234.2 694.0,1217.4 694.5,1214.8Z" fill="#cf8a72"/>
<path d="M756.9,1284.1 C757.5,1283.6 761.3,1286.2 763.9,1289.3 C766.5,1292.5 771.7,1300.7 772.5,1303.2 C773.4,1305.7 771.1,1305.8 769.1,1304.1 C767.0,1302.3 762.4,1296.1 760.4,1292.8 C758.4,1289.5 756.4,1284.7 756.9,1284.1Z" fill="#2f4a54"/>
<path d="M694.5,1191.4 L717.1,1176.7 L736.1,1166.3 L732.7,1180.1 L717.1,1195.7 L706.7,1205.3 L700.6,1200.9Z" fill="#c6453c"/>
<ellipse cx="705.8" cy="1187.1" rx="2" ry="3.4" fill="#1d2a2e" transform="rotate(20 705.8 1187.1)"/>
<ellipse cx="714.5" cy="1182.7" rx="2" ry="3.4" fill="#1d2a2e" transform="rotate(20 714.5 1182.7)"/>
<ellipse cx="723.7" cy="1177.5" rx="2" ry="3.4" fill="#1d2a2e" transform="rotate(20 723.7 1177.5)"/>
<path d="M682.4,1200.9 C683.3,1198.0 686.7,1193.7 689.3,1192.3 C691.9,1190.8 695.7,1190.8 698.0,1192.3 C700.3,1193.7 702.6,1197.8 703.2,1200.9 C703.8,1204.1 702.6,1208.7 701.5,1211.3 C700.3,1213.9 698.3,1216.0 696.3,1216.5 C694.2,1217.1 691.4,1216.0 689.3,1214.8 C687.3,1213.6 685.3,1211.9 684.1,1209.6 C683.0,1207.3 681.5,1203.8 682.4,1200.9Z" fill="#d28d75"/>
<path d="M633.9,1225.5 C633.3,1224.2 645.7,1215.0 651.2,1211.3 C656.7,1207.7 661.6,1205.1 666.8,1203.5 C672.0,1201.9 678.1,1201.1 682.4,1201.8 C686.7,1202.5 690.8,1206.0 692.8,1207.9 C694.8,1209.7 695.7,1211.5 694.5,1213.1 C693.4,1214.7 689.6,1217.1 685.9,1217.4 C682.1,1217.7 677.2,1214.5 672.0,1214.8 C666.8,1215.1 661.0,1217.3 654.7,1219.1 C648.3,1220.9 634.4,1226.8 633.9,1225.5Z" fill="#a2bcbc"/>
<path d="M644.3,1245.1 C643.7,1243.3 654.4,1233.3 659.9,1228.7 C665.4,1224.0 672.3,1219.3 677.2,1217.4 C682.1,1215.5 687.0,1216.7 689.3,1217.4 C691.6,1218.1 692.5,1219.9 691.1,1221.7 C689.6,1223.6 685.3,1225.6 680.7,1228.7 C676.0,1231.7 669.4,1237.2 663.3,1239.9 C657.3,1242.7 644.8,1247.0 644.3,1245.1Z" fill="#5e7076"/>
<path d="M643.9,1246.0 C644.2,1244.8 646.5,1243.7 651.2,1240.8 C655.9,1237.9 665.6,1232.1 672.0,1228.7 C678.4,1225.2 686.0,1221.0 689.3,1220.0 C692.7,1219.0 692.5,1221.4 691.9,1222.6 C691.4,1223.8 690.3,1224.0 685.9,1226.9 C681.4,1229.8 671.1,1236.5 665.1,1239.9 C659.0,1243.4 653.0,1246.7 649.5,1247.7 C645.9,1248.7 643.6,1247.2 643.9,1246.0Z" fill="#a2bcbc"/>
<circle cx="690.7" cy="1198.9" r="2.6" fill="#f6f3ec"/><circle cx="691.1" cy="1198.9" r="1.3" fill="#1c1c1c"/>
<circle cx="693.7" cy="1205.3" r="2.4" fill="#d8412f"/>
<path d="M659.3,936.0 Q656.1,945.3 660.7,958.7 Q663.7,944.8 659.3,936.0Z" fill="#e6ede6"/>
<path d="M676.7,973.3 Q667.4,979.4 662.7,994.7 Q674.8,984.3 676.7,973.3Z" fill="#e6ede6"/>
<path d="M681.3,985.3 Q670.6,991.4 664.7,1008.0 Q678.7,997.4 681.3,985.3Z" fill="#e6ede6"/>
<path d="M681.6,986.7 Q672.8,1002.9 672.0,1030.0 Q682.7,1005.1 681.6,986.7Z" fill="#e6ede6"/>
<path d="M688.0,974.7 Q685.6,992.6 697.3,1016.0 Q697.9,989.8 688.0,974.7Z" fill="#e6ede6"/>
<path d="M698.0,958.7 Q696.1,976.3 708.7,998.7 Q708.4,973.0 698.0,958.7Z" fill="#e6ede6"/>
<path d="M744.0,970.7 Q727.4,972.1 716.0,992.0 Q738.2,986.3 744.0,970.7Z" fill="#e6ede6"/>
<path d="M778.7,980.0 Q763.3,990.5 754.7,1016.0 Q774.9,998.3 778.7,980.0Z" fill="#e6ede6"/>
<path d="M792.0,1000.0 Q783.6,1010.9 786.7,1030.0 Q796.1,1013.1 792.0,1000.0Z" fill="#e6ede6"/>
<path d="M640.7,960.0 Q639.2,979.2 641.3,1008.0 Q642.7,979.2 640.7,960.0Z" fill="#e6ede6"/>
<path d="M652.7,973.3 Q649.3,994.1 651.3,1025.3 Q654.9,994.2 652.7,973.3Z" fill="#e6ede6"/>
<path d="M664.0,949.3 C664.2,948.0 667.1,945.8 669.3,945.3 C671.6,944.9 675.6,945.6 677.3,946.7 C679.1,947.8 680.7,950.7 680.0,952.0 C679.3,953.3 675.3,954.4 673.3,954.7 C671.3,954.9 669.6,954.2 668.0,953.3 C666.4,952.4 663.8,950.7 664.0,949.3Z" fill="#e6ede6"/>
<path d="M640.0,937.3 C640.7,941.1 643.8,948.2 644.0,960.0 C644.2,971.8 641.8,1000.0 641.3,1008.0" fill="none" stroke="#a9d4a9" stroke-width="1.3"/>
<path d="M646.7,937.3 C647.8,942.2 652.4,951.8 653.3,966.7 C654.2,981.6 652.2,1016.7 652.0,1026.7" fill="none" stroke="#a9d4a9" stroke-width="1.3"/>
<path d="M653.3,936.0 C653.0,937.8 651.8,943.6 651.3,946.7 C650.9,949.8 650.8,953.3 650.7,954.7" fill="none" stroke="#a9d4a9" stroke-width="1.3"/>
<path d="M686.7,941.3 C685.6,946.7 682.4,965.8 680.0,973.3 C677.6,980.9 673.3,984.4 672.0,986.7" fill="none" stroke="#a9d4a9" stroke-width="1.3"/>
<path d="M694.7,942.7 C693.3,948.2 688.7,968.7 686.7,976.0 C684.7,983.3 683.3,984.9 682.7,986.7" fill="none" stroke="#a9d4a9" stroke-width="1.3"/>
<path d="M698.7,944.0 L698.0,960.0" fill="none" stroke="#a9d4a9" stroke-width="1.3"/>
<path d="M777.3,957.3 C774.4,958.9 765.6,964.2 760.0,966.7 C754.4,969.1 746.7,971.1 744.0,972.0" fill="none" stroke="#a9d4a9" stroke-width="1.3"/>
<path d="M785.3,960.0 C784.9,962.2 784.0,969.3 782.7,973.3 C781.3,977.3 778.2,982.2 777.3,984.0" fill="none" stroke="#a9d4a9" stroke-width="1.3"/>
<path d="M785.3,960.0 C785.6,963.3 786.0,973.3 786.7,980.0 C787.3,986.7 788.9,996.7 789.3,1000.0" fill="none" stroke="#a9d4a9" stroke-width="1.3"/>
<path d="M792.0,1000.7 Q780.9,1020.6 781.3,1054.0 Q794.6,1023.4 792.0,1000.7Z" fill="#e6ede6"/>
<path d="M792.0,999.3 Q795.4,1016.0 817.3,1018.0 Q808.9,997.6 792.0,999.3Z" fill="#e6ede6"/>
<path d="M838.7,968.7 Q834.6,974.4 838.0,983.3 Q842.2,974.7 838.7,968.7Z" fill="#e6ede6"/>
<path d="M854.7,986.0 Q843.5,1001.8 842.0,1030.0 Q855.7,1005.4 854.7,986.0Z" fill="#e6ede6"/>
<path d="M869.3,983.3 Q861.3,1005.9 866.7,1040.7 Q875.2,1006.6 869.3,983.3Z" fill="#e6ede6"/>
<path d="M876.0,977.3 Q878.5,981.4 884.7,980.0 Q880.4,975.4 876.0,977.3Z" fill="#e6ede6"/>
<path d="M897.3,982.0 Q899.0,985.3 903.3,983.6 Q900.5,979.9 897.3,982.0Z" fill="#e6ede6"/>
<path d="M901.3,1012.7 Q890.6,1023.9 886.0,1046.0 Q899.8,1028.1 901.3,1012.7Z" fill="#e6ede6"/>
<path d="M904.0,1015.3 Q897.9,1032.4 896.7,1059.3 Q904.2,1033.5 904.0,1015.3Z" fill="#e6ede6"/>
<path d="M785.3,960.7 C785.8,964.4 787.1,976.7 788.0,983.3 C788.9,990.0 790.4,997.8 790.9,1000.7" fill="none" stroke="#a9d4a9" stroke-width="1.3"/>
<path d="M854.0,972.7 L854.7,987.3" fill="none" stroke="#a9d4a9" stroke-width="1.3"/>
<path d="M866.7,975.3 L869.1,984.7" fill="none" stroke="#a9d4a9" stroke-width="1.3"/>
<path d="M860.0,1585.0 C860.0,1586.2 873.3,1585.8 880.0,1583.8 C886.7,1581.7 894.2,1578.1 900.0,1572.5 C905.8,1566.9 911.0,1559.6 915.0,1550.0 C919.0,1540.4 921.9,1523.3 923.8,1515.0 C925.6,1506.7 926.9,1502.5 926.2,1500.0 C925.6,1497.5 922.3,1493.8 920.0,1500.0 C917.7,1506.2 916.2,1527.1 912.5,1537.5 C908.8,1547.9 902.9,1556.0 897.5,1562.5 C892.1,1569.0 886.2,1572.5 880.0,1576.2 C873.8,1580.0 860.0,1583.8 860.0,1585.0Z" fill="#2f3f78"/>
<path d="M875.0,1579.5 C877.1,1577.2 889.2,1572.8 895.0,1567.5 C900.8,1562.2 905.8,1556.2 910.0,1547.5 C914.2,1538.8 917.9,1519.2 920.0,1515.0 C922.1,1510.8 923.3,1516.7 922.5,1522.5 C921.7,1528.3 918.8,1541.9 915.0,1550.0 C911.2,1558.1 905.4,1566.0 900.0,1571.2 C894.6,1576.5 886.7,1579.9 882.5,1581.2 C878.3,1582.6 872.9,1581.8 875.0,1579.5Z" fill="#8fb0d8"/>
<path d="M904,1427 L912,1455 L919,1480 L925,1500" stroke="#1f3a2a" stroke-width="1.5" fill="none"/>
<path d="M920,1478 L922,1500 M924,1484 L929,1502" stroke="#1a3524" stroke-width="2.4" fill="none"/>
<path d="M897,1406 L901,1400 L906,1406 L904,1427 L901,1418 Z" fill="#cfe9e3"/>
<path d="M899.5,1407 L901,1402 L903.5,1407 L902,1419 Z" fill="#6b2a3a"/>
<defs><linearGradient id="fadeL" gradientUnits="userSpaceOnUse" x1="0" y1="1600" x2="0" y2="1760"><stop offset="0" stop-color="#1c2a1c" stop-opacity="0"/><stop offset="1" stop-color="#1c2a1c" stop-opacity="0.15"/></linearGradient></defs>
<path d="M300,1570 L460,1570 L458,1580 L434,1700 L405,1850 L378,2000 L376,2012 L300,2012 Z" fill="url(#fadeL)"/>
<rect x="300" y="900" width="700" height="1110" fill="url(#gshade)"/>
</g>
<defs>
<linearGradient id="capg" gradientUnits="userSpaceOnUse" x1="640" y1="800" x2="940" y2="853">
<stop offset="0" stop-color="#98b5bd"/><stop offset="0.08" stop-color="#a9c7ce"/><stop offset="0.22" stop-color="#a6c3cb"/>
<stop offset="0.55" stop-color="#a0bdc5"/><stop offset="0.8" stop-color="#a9c7cf"/><stop offset="1" stop-color="#a3c0c8"/>
</linearGradient>
<linearGradient id="darkg" gradientUnits="userSpaceOnUse" x1="840" y1="725" x2="930" y2="840">
<stop offset="0" stop-color="#78929a"/><stop offset="0.55" stop-color="#7e98a0"/><stop offset="0.85" stop-color="#94b0b8"/><stop offset="1" stop-color="#a6c3cb"/>
</linearGradient>
<linearGradient id="spoutg" gradientUnits="userSpaceOnUse" x1="955" y1="790" x2="1068" y2="800">
<stop offset="0" stop-color="#87a3ab"/><stop offset="0.6" stop-color="#8da9b1"/><stop offset="0.9" stop-color="#9bb8c0"/><stop offset="1" stop-color="#a3c0c8"/>
</linearGradient>
<linearGradient id="hand" gradientUnits="userSpaceOnUse" x1="690" y1="700" x2="770" y2="674">
<stop offset="0" stop-color="#9ab6be"/><stop offset="0.08" stop-color="#8ba7af"/><stop offset="0.6" stop-color="#8ca8b0"/><stop offset="1" stop-color="#86a2aa"/>
</linearGradient>
<filter id="bl3" x="-20%" y="-20%" width="140%" height="140%"><feGaussianBlur stdDeviation="3"/></filter>
<filter id="bl6" x="-20%" y="-20%" width="140%" height="140%"><feGaussianBlur stdDeviation="6"/></filter>
<clipPath id="capclip"><path id="capshape" d="M685,693 Q681,693 680.5,698 L634.5,925 Q634,929 638,929.5 L925,980.5 Q929,981 929.8,977 L947,880 L951.5,835 L1034,841.5 L1050,839.5 Q1059,837 1061,828 L1070.5,768 Q1071,764 1067,763 L1030,755 L793,710 Z"/></clipPath>
</defs>
<g id="cap">
<path d="M870,697 L873,690 L882,692 L881,727 L868,725 Z" fill="#eef0f3" stroke="#dfe3e8" stroke-width="1"/>
<use href="#capshape" fill="url(#capg)"/>
<g clip-path="url(#capclip)">
<path d="M780,700 L960,740 L958,760 Q950,800 905,835 Q880,852 850,850 L800,760 Z" fill="url(#darkg)"/>
<path d="M956,760 Q948,800 905,835 Q885,850 858,850" fill="none" stroke="#abc9d0" stroke-width="9" filter="url(#bl3)"/>
<path d="M954,742 L1075,764 L1066,846 L951,836 Z" fill="url(#spoutg)"/>
<path d="M951,834 L1034,840.5 L1052,838" stroke="#a8c6cd" stroke-width="3" fill="none"/>
<path d="M793,709.5 L1032,754" stroke="#6f8890" stroke-width="1.5" fill="none"/>
<path d="M638,914 L931,966" stroke="#9ebbc3" stroke-width="1.5" fill="none" opacity="0.5"/>
</g>
<path d="M868,723.6 L1031,754.5" stroke="#3f4f55" stroke-width="2" fill="none" stroke-linecap="round"/>
<path d="M742,862 A58,58 0 0 0 858,862" fill="none" stroke="#87a3ab" stroke-width="9" filter="url(#bl3)" opacity="0.9" transform="translate(0,4)"/>
<path d="M636,536 L652,503 Q654,500 658,499 L705,483 Q712,481.5 715,488 L721,506 Q736,545 750,584 Q766,625 779,663 L793,710 L804,734 L826,790 L846,823 Q857,840 858,857 A58,58 0 0 1 742,857 L739.5,846 L725.5,781.5 L697.5,698 L664,607 Z" fill="url(#hand)"/>
<path d="M639,538 L664,607 L697.5,698 L725.5,781.5 L741,846 L748,876" fill="none" stroke="#a5c2ca" stroke-width="2" opacity="0.8"/>
<circle cx="800" cy="857" r="32.5" fill="#9dbac2"/>
<circle cx="800" cy="857" r="32" fill="none" stroke="#86a2aa" stroke-width="1.6"/>
<path d="M771,843 A32,32 0 0 1 818,830" fill="none" stroke="#b3d0d7" stroke-width="1.6"/>
</g>
<g id="logo">
<circle cx="750" cy="165" r="99" fill="none" stroke="#e4682a" stroke-width="12"/>
<text class="lg" x="691" y="140" font-size="32.5" textLength="114" lengthAdjust="spacing">COOL</text>
<text class="lg" x="691" y="175.5" font-size="32.5" textLength="114" lengthAdjust="spacing">BOTT</text>
<text class="lg" x="691" y="213.5" font-size="32.5" textLength="74" lengthAdjust="spacing">LES</text>
<text class="lg" x="767" y="196" font-size="7" stroke-width="0.3">TM</text>
<text x="800" y="264" font-family="Liberation Serif,serif" font-style="italic" font-size="92" textLength="121" lengthAdjust="spacingAndGlyphs" transform="rotate(-10 800 264)" stroke-linejoin="round" stroke-linecap="round" fill="#e4682a" stroke="#e4682a" stroke-width="14">Kids</text>
<text x="800" y="264" font-family="Liberation Serif,serif" font-style="italic" font-size="92" textLength="121" lengthAdjust="spacingAndGlyphs" transform="rotate(-10 800 264)" stroke-linejoin="round" stroke-linecap="round" fill="#fff" stroke="#fff" stroke-width="9">Kids</text>
<text x="800" y="264" font-family="Liberation Serif,serif" font-style="italic" font-size="92" textLength="121" lengthAdjust="spacingAndGlyphs" transform="rotate(-10 800 264)" stroke-linejoin="round" stroke-linecap="round" fill="#e4682a" stroke="#e4682a" stroke-width="2.2">Kids</text>
</g>
<path d="M605,490.5 C485,490 395,510 342,568" fill="none" stroke="#e96a24" stroke-width="6" stroke-dasharray="11 16.7 28.5 16.7 28.5 16.7 28.5 16.7 28.5 16.7 28.5 16.7 40"/>
<path d="M895,634 C899,596 913,560 946.6,534.2" fill="none" stroke="#e96a24" stroke-width="6" stroke-dasharray="24 16 29 17 40"/>
<path d="M942,1002 L966,1011 C1008,1027 1048,1058 1061,1105" fill="none" stroke="#e96a24" stroke-width="6" stroke-dasharray="25.6 16 29 17 29 17 40 100"/>
<path d="M139,1283 C142,1400 230,1540 376,1636" fill="none" stroke="#e96a24" stroke-width="6" stroke-dasharray="6.8 16.6 28.4 16.6 28.4 16.6 28.4 16.6 28.4 16.6 28.4 16.6 28.4 16.6 28.4 16.6 28.4 16.6 28.4 16.6 40"/>
<circle cx="634.7" cy="510" r="35" fill="none" stroke="#e96a24" stroke-width="6"/><circle cx="634.7" cy="510" r="22.5" fill="#e96a24"/>
<circle cx="885.2" cy="669.8" r="35" fill="none" stroke="#e96a24" stroke-width="6"/><circle cx="885.2" cy="669.8" r="22.5" fill="#e96a24"/>
<circle cx="921" cy="998" r="35" fill="none" stroke="#e96a24" stroke-width="6"/><circle cx="921" cy="998" r="22.5" fill="#e96a24"/>
<circle cx="387.5" cy="1645" r="35" fill="none" stroke="#e96a24" stroke-width="6"/><circle cx="387.5" cy="1645" r="22.5" fill="#e96a24"/>
<text class="h" x="52.20" y="624" font-size="54" textLength="480.80" lengthAdjust="spacingAndGlyphs">СИЛИКОНОВАЯ</text>
<text class="h" x="53.07" y="685.5" font-size="54" textLength="200.94" lengthAdjust="spacingAndGlyphs">РУЧКА</text>
<text class="b" x="52.11" y="735" font-size="39.5" textLength="473.89" lengthAdjust="spacingAndGlyphs">удобно носить ребенку</text>
<text class="h" x="975.18" y="554" font-size="54" textLength="366.84" lengthAdjust="spacingAndGlyphs">БЕЗОПАСЕН</text>
<text class="b" x="968.01" y="604.5" font-size="39.5" textLength="280.18" lengthAdjust="spacingAndGlyphs">соломинка не</text>
<text class="b" x="968.01" y="645" font-size="39.5" textLength="450.98" lengthAdjust="spacingAndGlyphs">содержит бисфенол А</text>
<text class="h" x="50.20" y="1080" font-size="54" textLength="549.79" lengthAdjust="spacingAndGlyphs">ДОЛГОВЕЧНОСТЬ</text>
<text class="b" x="50.21" y="1133" font-size="39.5" textLength="271.78" lengthAdjust="spacingAndGlyphs">выдерживает</text>
<text class="b" x="49.98" y="1174" font-size="39.5" textLength="354.04" lengthAdjust="spacingAndGlyphs">падения, удары и</text>
<text class="b" x="49.97" y="1215" font-size="39.5" textLength="296.06" lengthAdjust="spacingAndGlyphs">повседневный</text>
<text class="b" x="49.96" y="1256" font-size="39.5" textLength="122.06" lengthAdjust="spacingAndGlyphs">износ</text>
<text class="h" x="935.18" y="1171" font-size="42" textLength="107.83" lengthAdjust="spacingAndGlyphs">100</text>
<text class="h" x="1044.58" y="1171.5" font-size="54" textLength="48.32" lengthAdjust="spacingAndGlyphs">%</text>
<text class="h" x="935.99" y="1231.6" font-size="54" textLength="530.01" lengthAdjust="spacingAndGlyphs">ГЕРМЕТИЧНОСТЬ</text>
<text class="b" x="935.99" y="1281" font-size="39.5" textLength="457.02" lengthAdjust="spacingAndGlyphs">защита от проливания</text>
</svg>
</body></html>
